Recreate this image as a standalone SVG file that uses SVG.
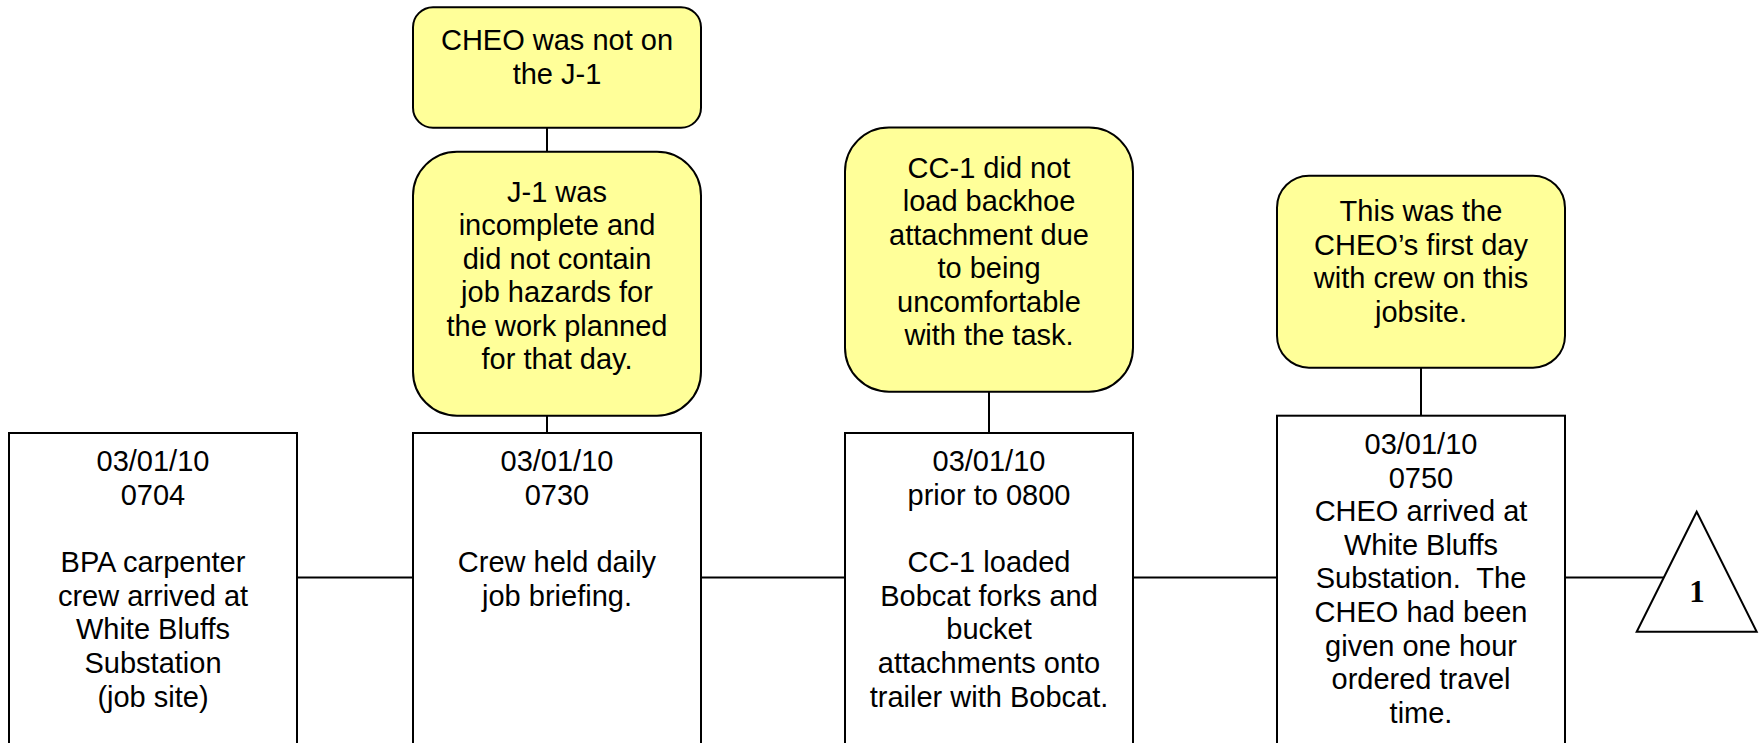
<svg xmlns="http://www.w3.org/2000/svg" width="1760" height="743" viewBox="0 0 1760 743">
<style>
.box{fill:#ffffff;stroke:#000000;stroke-width:2}
.note{fill:#ffff99;stroke:#000000;stroke-width:2}
.conn{stroke:#000000;stroke-width:2;fill:none}
.t{font-family:"Liberation Sans",Arial,sans-serif;font-size:29px;fill:#000000;text-anchor:middle}
.num{font-family:"Liberation Serif","Times New Roman",serif;font-size:31px;font-weight:bold;fill:#000000;text-anchor:middle}
</style>
<rect width="1760" height="743" fill="#ffffff"/>
<g id="connectors">
<line class="conn" x1="297" y1="577.5" x2="413" y2="577.5"/>
<line class="conn" x1="701" y1="577.5" x2="845" y2="577.5"/>
<line class="conn" x1="1133" y1="577.5" x2="1277" y2="577.5"/>
<line class="conn" x1="1565" y1="577.5" x2="1664" y2="577.5"/>
<line class="conn" x1="547" y1="127.7" x2="547" y2="151.7"/>
<line class="conn" x1="547" y1="415.7" x2="547" y2="433"/>
<line class="conn" x1="989" y1="391.7" x2="989" y2="433"/>
<line class="conn" x1="1421" y1="367.7" x2="1421" y2="415.7"/>
</g>
<g id="event1">
<rect class="box" x="9" y="433" width="288" height="330"/>
<text class="t"><tspan x="153" y="470.7">03/01/10</tspan><tspan x="153" y="504.5">0704</tspan><tspan x="153" y="572">BPA carpenter</tspan><tspan x="153" y="605.7">crew arrived at</tspan><tspan x="153" y="639.4">White Bluffs</tspan><tspan x="153" y="673">Substation</tspan><tspan x="153" y="706.8">(job site)</tspan></text>
</g>
<g id="event2">
<rect class="box" x="413" y="433" width="288" height="330"/>
<text class="t"><tspan x="557" y="470.7">03/01/10</tspan><tspan x="557" y="504.5">0730</tspan><tspan x="557" y="572">Crew held daily</tspan><tspan x="557" y="605.7">job briefing.</tspan></text>
</g>
<g id="event3">
<rect class="box" x="845" y="433" width="288" height="330"/>
<text class="t"><tspan x="989" y="470.7">03/01/10</tspan><tspan x="989" y="504.5">prior to 0800</tspan><tspan x="989" y="572">CC-1 loaded</tspan><tspan x="989" y="605.7">Bobcat forks and</tspan><tspan x="989" y="639.4">bucket</tspan><tspan x="989" y="673">attachments onto</tspan><tspan x="989" y="706.8">trailer with Bobcat.</tspan></text>
</g>
<g id="event4">
<rect class="box" x="1277" y="415.7" width="288" height="350"/>
<text class="t"><tspan x="1421" y="454">03/01/10</tspan><tspan x="1421" y="487.6">0750</tspan><tspan x="1421" y="521.2">CHEO arrived at</tspan><tspan x="1421" y="554.8">White Bluffs</tspan><tspan x="1421" y="588.4" xml:space="preserve">Substation.  The</tspan><tspan x="1421" y="622">CHEO had been</tspan><tspan x="1421" y="655.6">given one hour</tspan><tspan x="1421" y="689.2">ordered travel</tspan><tspan x="1421" y="722.8">time.</tspan></text>
</g>
<g id="connector1">
<polygon points="1696.7,511.7 1636.7,631.7 1756.7,631.7" fill="#ffffff" stroke="#000000" stroke-width="2"/>
<text class="num" x="1697" y="601.7">1</text>
</g>
<g id="note1">
<rect class="note" x="413" y="7.3" width="288" height="120.4" rx="20" ry="20"/>
<text class="t"><tspan x="557" y="50">CHEO was not on</tspan><tspan x="557" y="83.5">the J-1</tspan></text>
</g>
<g id="note2">
<rect class="note" x="413" y="151.7" width="288" height="264" rx="44" ry="44"/>
<text class="t"><tspan x="557" y="201.7">J-1 was</tspan><tspan x="557" y="235.2">incomplete and</tspan><tspan x="557" y="268.7">did not contain</tspan><tspan x="557" y="302.2">job hazards for</tspan><tspan x="557" y="335.7">the work planned</tspan><tspan x="557" y="369.2">for that day.</tspan></text>
</g>
<g id="note3">
<rect class="note" x="845" y="127.5" width="288" height="264.2" rx="44" ry="44"/>
<text class="t"><tspan x="989" y="177.5">CC-1 did not</tspan><tspan x="989" y="211">load backhoe</tspan><tspan x="989" y="244.5">attachment due</tspan><tspan x="989" y="278">to being</tspan><tspan x="989" y="311.5">uncomfortable</tspan><tspan x="989" y="345">with the task.</tspan></text>
</g>
<g id="note4">
<rect class="note" x="1277" y="175.7" width="288" height="192" rx="32" ry="32"/>
<text class="t"><tspan x="1421" y="221">This was the</tspan><tspan x="1421" y="254.5">CHEO’s first day</tspan><tspan x="1421" y="288">with crew on this</tspan><tspan x="1421" y="321.5">jobsite.</tspan></text>
</g>
</svg>
